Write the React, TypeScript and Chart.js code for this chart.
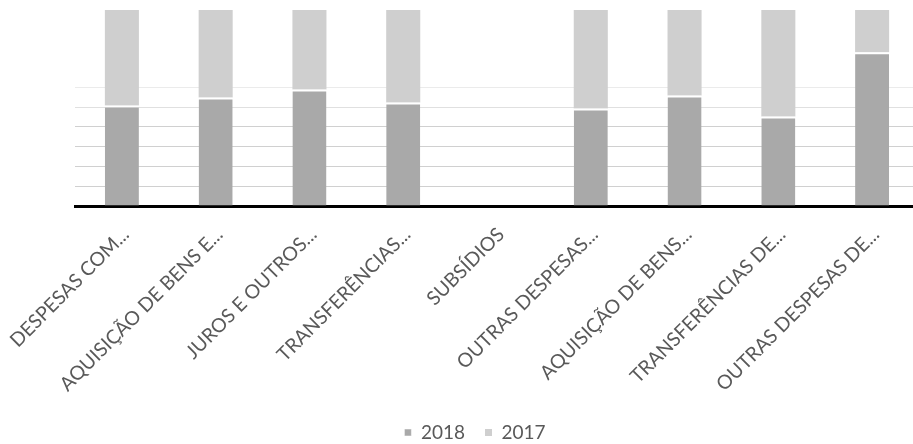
import React, { useEffect, useRef } from "react";
import { Chart, registerables } from "chart.js";

Chart.register(...registerables);

const categories = [
  "DESPESAS COM...",
  "AQUISIÇÃO DE BENS E...",
  "JUROS E OUTROS...",
  "TRANSFERÊNCIAS...",
  "SUBSÍDIOS",
  "OUTRAS DESPESAS...",
  "AQUISIÇÃO DE BENS...",
  "TRANSFERÊNCIAS DE...",
  "OUTRAS DESPESAS DE...",
];
const values2018 = [5.08, 5.48, 5.89, 5.23, 0, 4.92, 5.58, 4.52, 7.77];
const values2017 = [5.6, 5.5, 5.4, 5.5, 0, 5.6, 5.2, 6.2, 5.0];
const seriesLabels = ["2018", "2017"];
const yMax = 9.9;

const legendShift = {
  id: "legendShift",
  afterLayout(chart: any) {
    const lg = chart.legend;
    if (lg) {
      lg.left -= 22;
      lg.right -= 22;
      lg.top += 8;
      lg.bottom += 8;
    }
  },
};

export default function App() {
  const ref = useRef<HTMLCanvasElement | null>(null);
  useEffect(() => {
    if (!ref.current) return;
    const chart = new Chart(ref.current, {
      type: "bar",
      plugins: [legendShift],
      data: {
        labels: categories,
        datasets: [
          {
            label: seriesLabels[0],
            data: values2018,
            backgroundColor: "#a9a9a9",
            borderColor: "#ffffff",
            borderWidth: { top: 2, left: 0, right: 0, bottom: 0 },
            borderSkipped: false,
          },
          {
            label: seriesLabels[1],
            data: values2017,
            backgroundColor: "#cfcfcf",
            borderWidth: 0,
          },
        ],
      },
      options: {
        animation: false,
        responsive: false,
        maintainAspectRatio: false,
        layout: { padding: { top: 10, left: 75, right: 11, bottom: 0 } },
        datasets: {
          bar: { barPercentage: 0.363, categoryPercentage: 1 },
        },
        scales: {
          x: {
            stacked: true,
            grid: { display: false, drawTicks: false },
            border: { display: true, color: "#000000", width: 3 },
            afterFit: (scale: any) => {
              scale.paddingLeft = 0;
              scale.paddingRight = 0;
              scale.height = 189;
            },
            ticks: {
              autoSkip: false,
              maxRotation: 45,
              minRotation: 45,
              padding: 17,
              labelOffset: 4,
              color: "#595959",
              font: { family: "Lato", size: 19.5 },
            },
          },
          y: {
            stacked: true,
            min: 0,
            max: yMax,
            afterFit: (scale: any) => {
              scale.width = 0;
            },
            grid: {
              drawTicks: false,
              tickLength: 0,
              color: (ctx: any) => {
                const v = ctx.tick ? ctx.tick.value : 0;
                if (v >= 1 && v <= 4) return "#d0d0d0";
                if (v === 5) return "#e0e0e0";
                if (v === 6) return "#ebebeb";
                return "rgba(0,0,0,0)";
              },
            },
            border: { display: false },
            ticks: { display: false, stepSize: 1 },
          },
        },
        plugins: {
          legend: {
            position: "bottom",
            labels: {
              boxWidth: 7,
              boxHeight: 7,
              padding: 20,
              color: "#595959",
              font: { family: "Lato", size: 19 },
            },
          },
          tooltip: { enabled: false },
        },
      },
    });
    return () => chart.destroy();
  }, []);
  return (
    <div
      style={{
        position: "fixed",
        left: 0,
        top: 0,
        width: 913,
        height: 444,
        overflow: "hidden",
        background: "#fff",
      }}
    >
      <canvas ref={ref} width={930} height={444} style={{ display: "block" }} />
    </div>
  );
}
